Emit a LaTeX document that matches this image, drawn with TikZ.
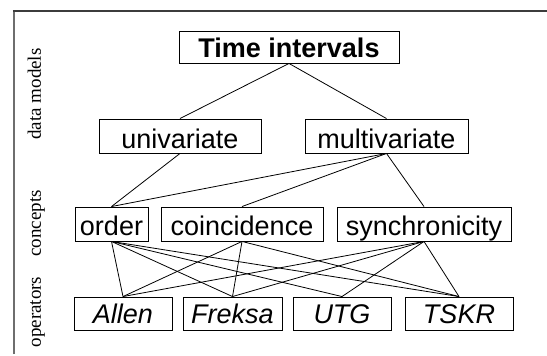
\documentclass[tikz,border=0pt]{standalone}
\usepackage{fontspec}
\setmainfont{Liberation Serif}
\setsansfont{Liberation Sans}
\definecolor{framegray}{RGB}{110,110,110}
\definecolor{topgray}{RGB}{60,60,60}
\begin{document}
\begin{tikzpicture}[x=1pt,y=-1pt,
  box/.style={draw=black, line width=0.9pt, rectangle, inner sep=0pt,
    font=\sffamily\fontsize{27}{30}\selectfont, align=center},
  lvtop/.style={text height=26pt, text depth=6pt},
  lvdata/.style={text height=29pt, text depth=5pt},
  lvconc/.style={text height=28pt, text depth=6pt},
  lvop/.style={text height=26pt, text depth=7pt, font=\sffamily\itshape\fontsize{27}{30}\selectfont},
  link/.style={line width=0.8pt, black},
  side/.style={rotate=90, anchor=base, font=\rmfamily\fontsize{19}{22}\selectfont}]
\useasboundingbox (0,0) rectangle (547,356);

% frame
\draw[line width=2pt, framegray] (13.8,354) -- (13.8,10);
\draw[line width=1.5pt, topgray] (12.8,10.8) -- (547,10.8);

% side labels
\node[side] (ldata) at (41,94) {data models};
\node[side] (lconc) at (41,223.5) {concepts};
\node[side] (lop) at (41,312) {operators};

% nodes
\node[box, lvtop, minimum width=220pt, font=\sffamily\bfseries\fontsize{27}{30}\selectfont] (T) at (289,47) {Time intervals};
\node[box, lvdata, minimum width=162pt] (uni) at (180,136) {univariate};
\node[box, lvdata, minimum width=163pt] (multi) at (386.5,136) {multivariate};
\node[box, lvconc, minimum width=73pt] (order) at (111.5,224) {order};
\node[box, lvconc, minimum width=162pt] (coin) at (242,224) {coincidence};
\node[box, lvconc, minimum width=174pt] (sync) at (424,224) {synchronicity};
\node[box, lvop, minimum width=98pt] (allen) at (123,313.5) {Allen};
\node[box, lvop, minimum width=99pt] (freksa) at (232.5,313.5) {Freksa};
\node[box, lvop, minimum width=98pt] (utg) at (342,313.5) {UTG};
\node[box, lvop, minimum width=108pt] (tskr) at (459,313.5) {TSKR};

% connectors
\draw[link] (T.south) -- (uni.north);
\draw[link] (T.south) -- (multi.north);
\draw[link] (uni.south) -- (order.north);
\draw[link] (multi.south) -- (order.north);
\draw[link] (multi.south) -- (coin.north);
\draw[link] (multi.south) -- (sync.north);

\draw[link] (order.south) -- (allen.north);
\draw[link] (order.south) -- (freksa.north);
\draw[link] (order.south) -- (utg.north);
\draw[link] (order.south) -- (tskr.north);
\draw[link] (coin.south) -- (allen.north);
\draw[link] (coin.south) -- (freksa.north);
\draw[link] (coin.south) -- (tskr.north);
\draw[link] (sync.south) -- (allen.north);
\draw[link] (sync.south) -- (freksa.north);
\draw[link] (sync.south) -- (utg.north);
\draw[link] (sync.south) -- (tskr.north);
\end{tikzpicture}
\end{document}
